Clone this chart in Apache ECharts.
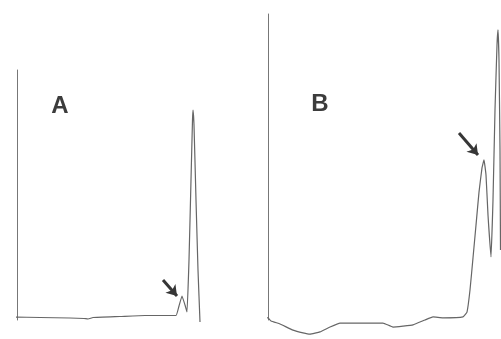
<!DOCTYPE html>
<html>
<head>
<meta charset="utf-8">
<script src="https://cdn.jsdelivr.net/npm/echarts@6/dist/echarts.min.js"></script>
<style>
  html, body { margin: 0; padding: 0; background: #ffffff; }
  #chart { width: 501px; height: 339px; }
</style>
</head>
<body>
<div id="chart"></div>
<script>
// Chromatogram A: retention time (min) and detector response
const timeA = [-0.4, 2.3, 5.3, 6.7, 7.1, 7.6, 10.3, 12.8, 15.9, 16.2, 16.5, 16.8, 17.0, 17.2, 17.4, 17.55, 17.6, 17.7, 17.9, 18.1, 18.3];
const respA = [1.2, 1.0, 0.8, 0.6, 0.4, 1.0, 1.4, 1.8, 1.8, 5.6, 9.6, 6.0, 3.2, 24, 56, 80, 84, 78, 48, 20, -0.8];

// Chromatogram B
const timeB = [-2.1, -0.8, 0, 0.3, 1.2, 2.5, 3.5, 4.2, 5.2, 6.2, 7.2, 11.5, 12.5, 13.5, 14.5, 15.7, 16.5, 17.5, 19.5, 19.9, 20.2, 20.5, 20.8, 21.1, 21.4, 21.6, 21.8, 22.0, 22.3, 22.5, 22.7, 22.9, 23.0, 23.1, 23.2, 23.25];
const respB = [1.0, 0.8, 0.7, -0.3, -1.3, -3.3, -4.2, -4.6, -3.9, -2.3, -1.0, -1.0, -2.3, -2.0, -1.6, 0, 1.0, 0.7, 1.0, 2.6, 9.8, 20.3, 31.0, 41.8, 49.7, 52.3, 47.4, 34.3, 20.6, 39.2, 68.6, 89.9, 94.8, 85.0, 55.6, 22.9];

// Arrows pointing at the marked peak in each run: [tail, head]
const arrowA = [[14.6, 16], [16.0, 9.6]];
const arrowB = [[19.1, 61.1], [21.0, 53.9]];

// Panel letters
const panelLabels = ['A', 'B'];

const pair = (xs, ys) => xs.map((x, i) => [x, ys[i]]);

const traceColor = '#666666';
const axisColor = '#777777';
const arrowColor = '#363636';

function yAxis(gridIndex, max) {
  return {
    type: 'value', gridIndex, min: 0, max,
    axisLine: { show: true, onZero: false, lineStyle: { color: axisColor, width: 1 } },
    axisTick: { show: false }, axisLabel: { show: false }, splitLine: { show: false }
  };
}
function xAxis(gridIndex, max) {
  return { type: 'value', gridIndex, min: 0, max, show: false };
}
function arrowLine(pts) {
  return {
    silent: true,
    symbol: ['none', 'arrow'],
    symbolSize: [10, 10],
    label: { show: false },
    lineStyle: { color: arrowColor, width: 3, type: 'solid' },
    data: [[{ coord: pts[0] }, { coord: pts[1] }]]
  };
}

const chart = echarts.init(document.getElementById('chart'), null, { renderer: 'canvas' });
chart.setOption({
  animation: false,
  backgroundColor: '#ffffff',
  grid: [
    { left: 17, top: 70, width: 190, height: 250 },
    { left: 268, top: 14, width: 233, height: 306 }
  ],
  xAxis: [xAxis(0, 19), xAxis(1, 23.3)],
  yAxis: [yAxis(0, 100), yAxis(1, 100)],
  series: [
    {
      type: 'line', xAxisIndex: 0, yAxisIndex: 0, data: pair(timeA, respA),
      showSymbol: false, clip: false, smooth: 0.1,
      lineStyle: { color: traceColor, width: 1.2 },
      markLine: arrowLine(arrowA)
    },
    {
      type: 'line', xAxisIndex: 1, yAxisIndex: 1, data: pair(timeB, respB),
      showSymbol: false, clip: false, smooth: 0.1,
      lineStyle: { color: traceColor, width: 1.2 },
      markLine: arrowLine(arrowB)
    }
  ],
  graphic: [
    { type: 'text', x: 60, y: 106, style: { text: panelLabels[0], textAlign: 'center', textVerticalAlign: 'middle', font: 'bold 24px "Liberation Sans", Arial, sans-serif', fill: '#3c3c3c' } },
    { type: 'text', x: 320, y: 104, style: { text: panelLabels[1], textAlign: 'center', textVerticalAlign: 'middle', font: 'bold 24px "Liberation Sans", Arial, sans-serif', fill: '#3c3c3c' } }
  ]
});
</script>
</body>
</html>
